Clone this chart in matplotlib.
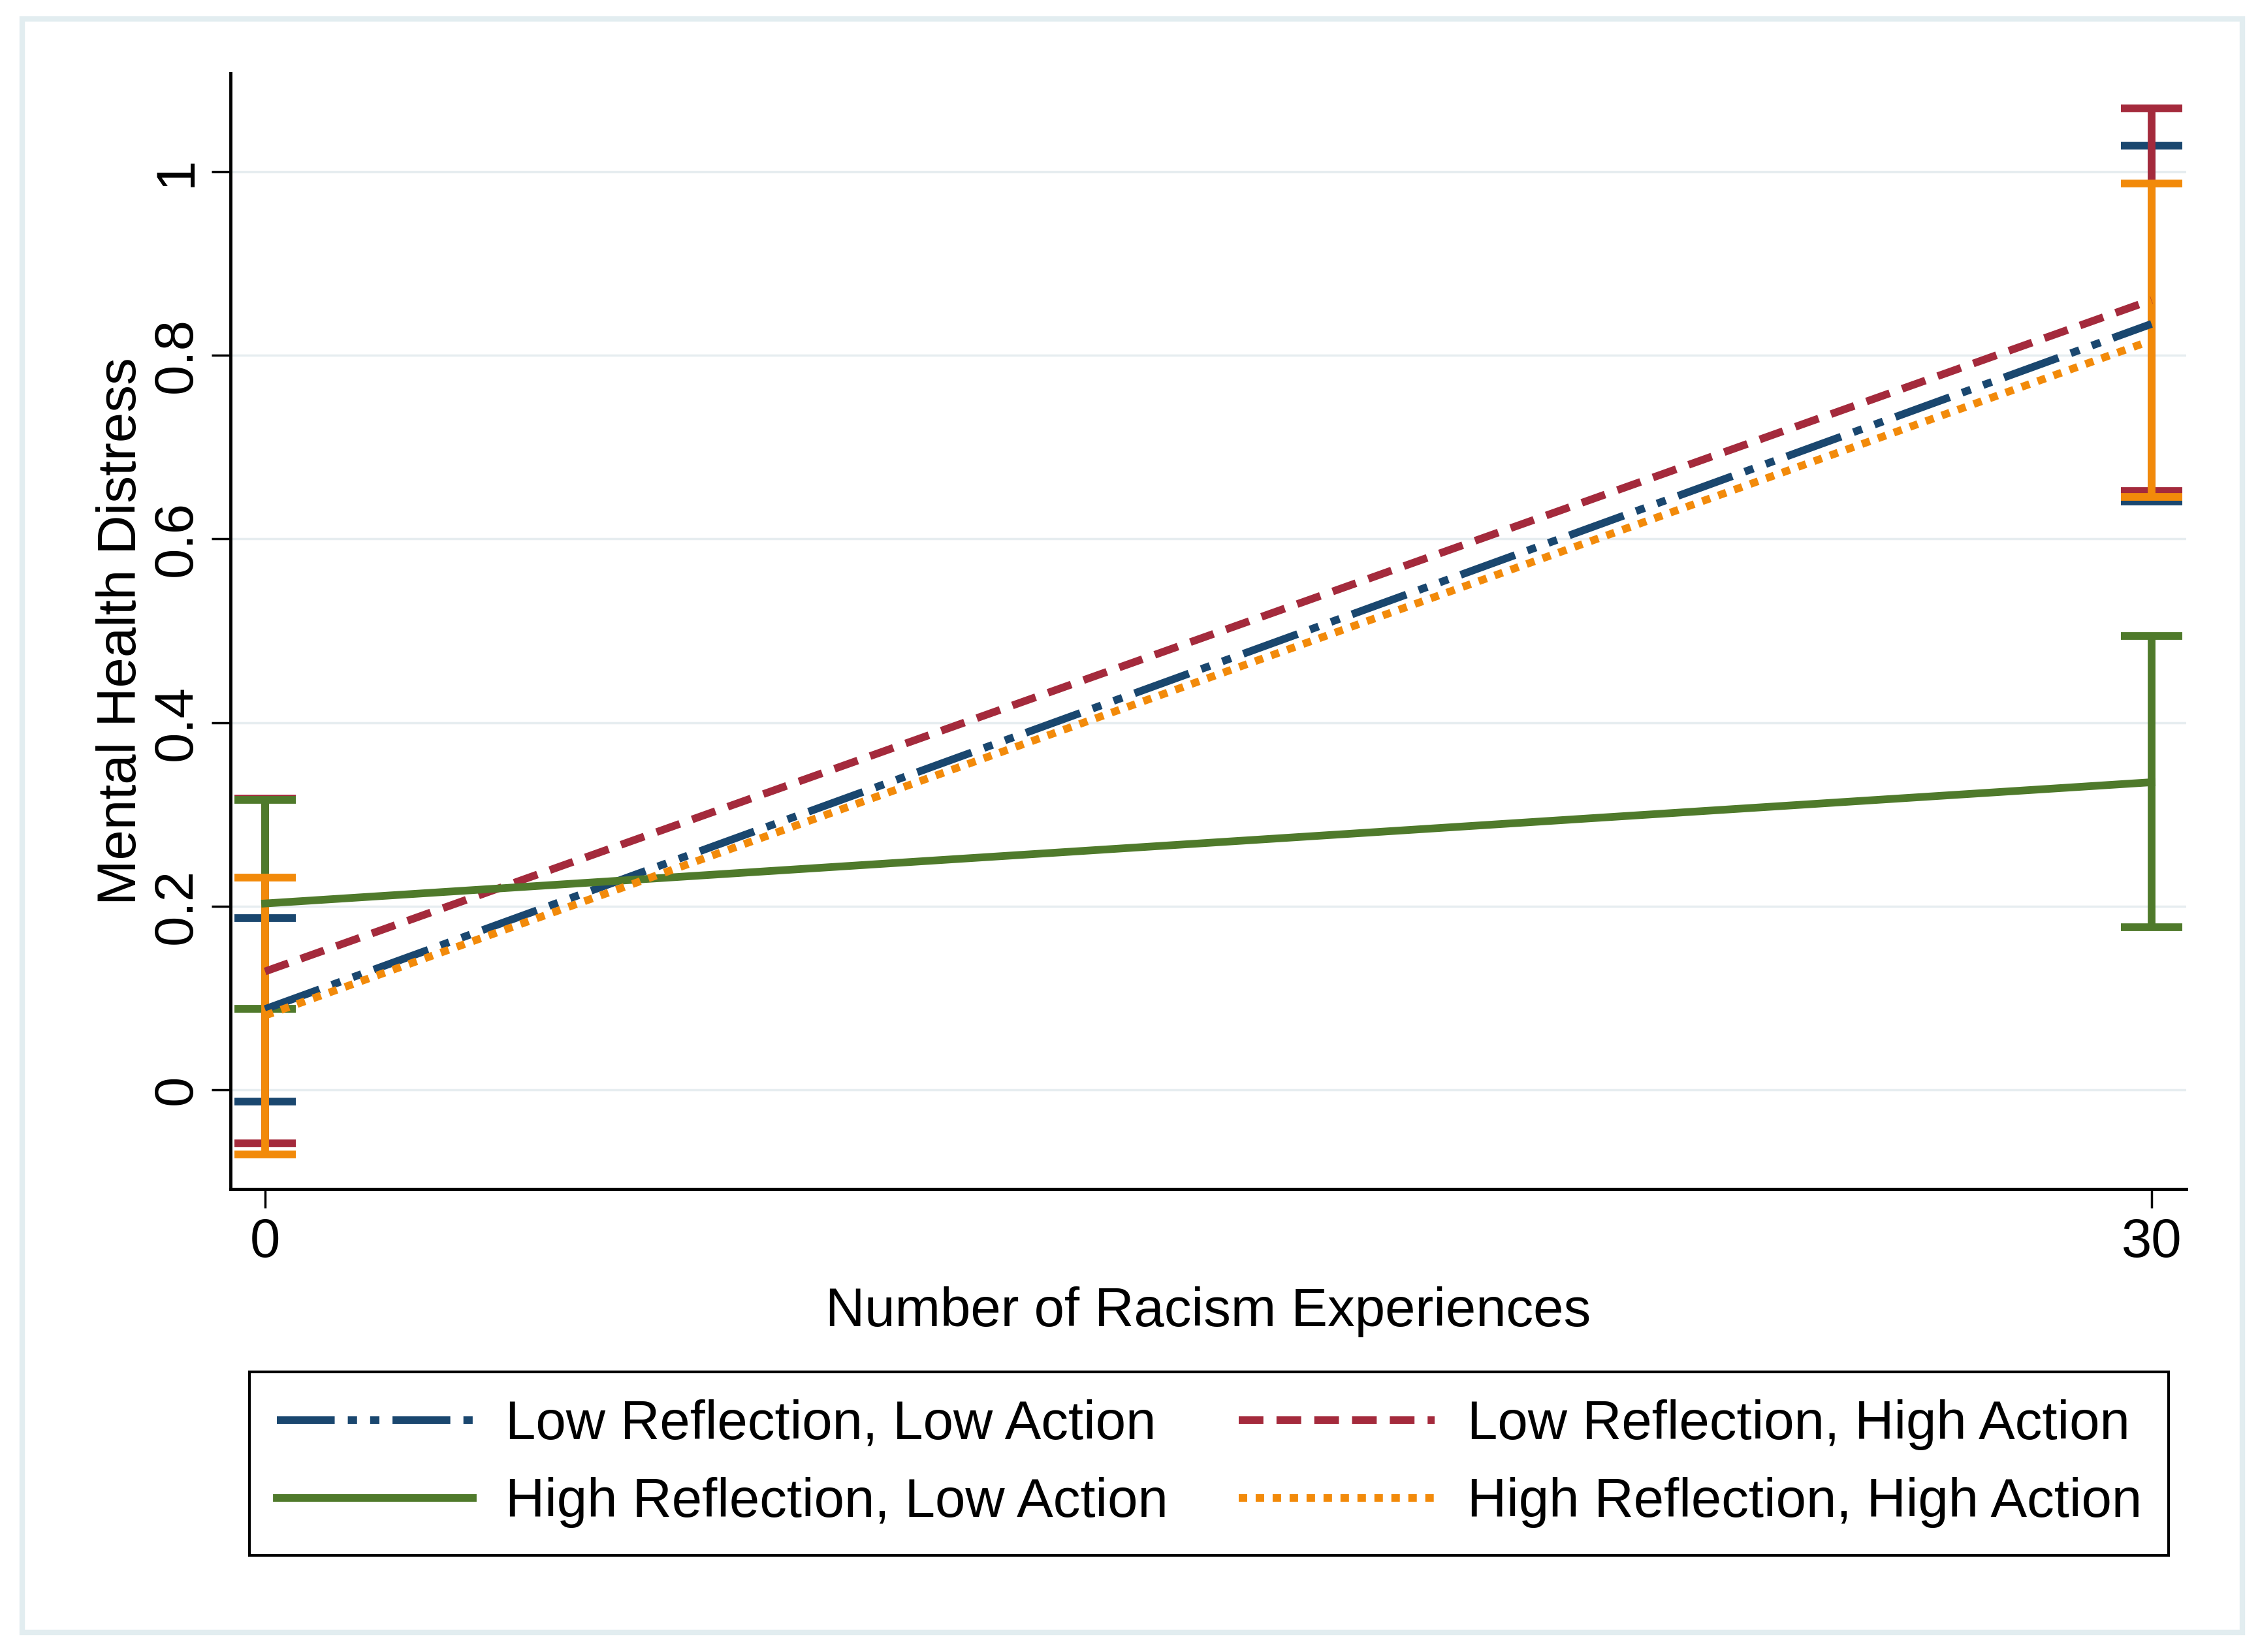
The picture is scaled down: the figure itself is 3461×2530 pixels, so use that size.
import matplotlib
matplotlib.use('Agg')
import matplotlib.pyplot as plt
from matplotlib.patches import Rectangle

plt.rcParams['font.family'] = ['Liberation Sans', 'DejaVu Sans']

# data (predicted margins with 95% CI)
racism = [0, 30]

labels = ["Low Reflection, Low Action", "Low Reflection, High Action",
          "High Reflection, Low Action", "High Reflection, High Action"]

ll_mean = [0.088, 0.834]
ll_lo = [-0.013, 0.641]
ll_hi = [0.187, 1.028]

lh_mean = [0.129, 0.860]
lh_lo = [-0.058, 0.652]
lh_hi = [0.317, 1.069]

hl_mean = [0.203, 0.335]
hl_lo = [0.088, 0.177]
hl_hi = [0.316, 0.494]

hh_mean = [0.081, 0.816]
hh_lo = [-0.070, 0.646]
hh_hi = [0.231, 0.987]

y_ticks = [0, 0.2, 0.4, 0.6, 0.8, 1]
y_ticklabels = ["0", "0.2", "0.4", "0.6", "0.8", "1"]
x_ticks = [0, 30]

colors = ["#1a476f", "#a42a3c", "#4f7a2b", "#f28a0a"]
dashes = [(7.5, 1.7, 1.2, 1.7, 1.2, 1.7), (3.2, 1.7), None, (1.1, 1.1)]

series = [(ll_mean, ll_lo, ll_hi), (lh_mean, lh_lo, lh_hi),
          (hl_mean, hl_lo, hl_hi), (hh_mean, hh_lo, hh_hi)]

FS = 60
LW = 8.5

fig = plt.figure(figsize=(34.61, 25.30), dpi=100)
ax = fig.add_axes([0.102, 0.2802, 0.9673 - 0.102, 0.9557 - 0.2802])

# confidence interval caps
for (m, lo, hi), c in zip(series, colors):
    err = [[mm - l for mm, l in zip(m, lo)], [h - mm for mm, h in zip(m, hi)]]
    ax.errorbar(racism, m, yerr=err, fmt='none', ecolor=c, elinewidth=LW,
                capsize=34, capthick=LW, zorder=2)

# lines
handles = []
for (m, lo, hi), c, d, lab in zip(series, colors, dashes, labels):
    ln, = ax.plot(racism, m, color=c, lw=LW, label=lab, zorder=3)
    if d is not None:
        ln.set_dashes(d)
    handles.append(ln)

ax.set_xlim(-0.55, 30.55)
ax.set_ylim(-0.108, 1.107)
ax.set_yticks(y_ticks, y_ticklabels)
ax.set_xticks(x_ticks)
ax.grid(axis='y', color='#e6edf0', lw=2.5)
ax.set_axisbelow(True)

for s in ['top', 'right']:
    ax.spines[s].set_visible(False)
for s in ['left', 'bottom']:
    ax.spines[s].set_linewidth(3.5)

ax.tick_params(axis='both', length=21, width=2.5, labelsize=FS, pad=10)
plt.setp(ax.get_yticklabels(), rotation=90, va='center')

ax.set_ylabel("Mental Health Distress", fontsize=FS, labelpad=5)
ax.set_xlabel("Number of Racism Experiences", fontsize=FS, labelpad=20)

order = [0, 2, 1, 3]
leg = ax.legend([handles[i] for i in order], [labels[i] for i in order],
                ncol=2, loc='center', bbox_to_anchor=(0.535, 0.114),
                bbox_transform=fig.transFigure, fontsize=FS,
                handlelength=3.6, handletextpad=0.6, columnspacing=1.3,
                labelspacing=0.5, borderpad=0.5, fancybox=False,
                framealpha=1, edgecolor='black')
leg.get_frame().set_linewidth(3)

# light outer border of the graph region
fig.patches.append(Rectangle((0.0098, 0.0119), 0.9824, 0.9766, transform=fig.transFigure,
                             fill=False, edgecolor='#e2edf0', lw=6, zorder=0))

fig.savefig('out.png', dpi=100, facecolor='white')
